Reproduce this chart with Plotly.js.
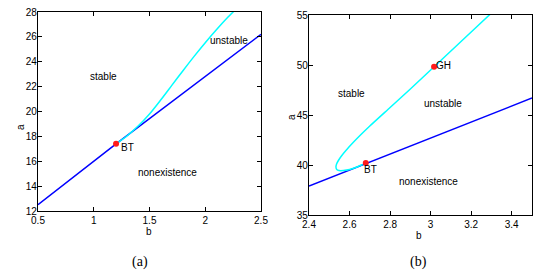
<!DOCTYPE html>
<html><head><meta charset="utf-8">
<script src="https://cdn.plot.ly/plotly-3.0.1.min.js"></script>
<style>body{margin:0;background:#fff}#c{width:558px;height:276px}</style>
</head><body><div id="c"></div>
<script>
// Panel (a)
var aBlueB = [0.5, 1.2, 2.5];
var aBlueA = [12.5, 17.4, 26.2];
var aCyanB = [1.2, 1.3, 1.4, 1.5, 1.6, 1.7, 1.8, 1.9, 2.0, 2.1, 2.2, 2.3];
var aCyanA = [17.4, 18.05, 18.85, 19.8, 20.92, 22.1, 23.28, 24.43, 25.53, 26.57, 27.55, 28.45];
var aBT = [1.2, 17.4];
// Panel (b)
var bBlueB = [2.4, 2.68, 3.5];
var bBlueA = [37.9, 40.15, 46.7];
var bCyanB = [2.665, 2.63, 2.6, 2.57, 2.548, 2.537, 2.533, 2.536, 2.545, 2.56, 2.58, 2.62, 2.7, 2.8, 2.9, 3.0, 3.1, 3.2, 3.3];
var bCyanA = [40.05, 39.75, 39.55, 39.45, 39.45, 39.55, 39.8, 40.1, 40.45, 40.9, 41.4, 42.3, 43.9, 45.75, 47.6, 49.5, 51.4, 53.3, 55.2];
var bBT = [2.68, 40.2];
var bGH = [3.017, 49.83];

var F = 'Liberation Sans, Arial, sans-serif';
var traces = [
  {x: aBlueB, y: aBlueA, mode: 'lines', line: {color: '#0000ff', width: 1.5}, xaxis: 'x', yaxis: 'y'},
  {x: aCyanB, y: aCyanA, mode: 'lines', line: {color: '#00ffff', width: 1.5, shape: 'spline', smoothing: 0.8}, xaxis: 'x', yaxis: 'y'},
  {x: [aBT[0]], y: [aBT[1]], mode: 'markers', marker: {color: '#ff1a1a', size: 6}, xaxis: 'x', yaxis: 'y'},
  {x: bBlueB, y: bBlueA, mode: 'lines', line: {color: '#0000ff', width: 1.5}, xaxis: 'x2', yaxis: 'y2'},
  {x: bCyanB, y: bCyanA, mode: 'lines', line: {color: '#00ffff', width: 1.5, shape: 'spline', smoothing: 0.6}, xaxis: 'x2', yaxis: 'y2'},
  {x: [bBT[0], bGH[0]], y: [bBT[1], bGH[1]], mode: 'markers', marker: {color: '#ff1a1a', size: 6}, xaxis: 'x2', yaxis: 'y2'}
];
function ax(extra) {
  var o = {showgrid: false, zeroline: false, showline: true, linecolor: '#000', linewidth: 1.2,
    mirror: 'ticks', ticks: 'inside', ticklen: 4, tickcolor: '#000', tickwidth: 1,
    tickfont: {family: F, size: 10, color: '#000'}, fixedrange: true};
  for (var k in extra) o[k] = extra[k];
  return o;
}
var tf = {family: F, size: 10, color: '#000'};
function pa(x, y, text, extra) {
  var o = {xref: 'paper', yref: 'paper', x: x/558, y: 1-y/276, text: text, showarrow: false,
    xanchor: 'center', yanchor: 'middle', font: tf};
  for (var k in extra) o[k] = extra[k];
  return o;
}
var serif = {family: 'Liberation Serif, Times New Roman, serif', size: 14, color: '#000'};
var layout = {
  width: 558, height: 276, margin: {l: 0, r: 0, t: 0, b: 0},
  paper_bgcolor: '#fff', plot_bgcolor: '#fff', showlegend: false,
  xaxis: ax({domain: [38/558, 261/558], range: [0.5, 2.5], dtick: 0.5, tick0: 0.5, anchor: 'y'}),
  yaxis: ax({domain: [1-211/276, 1-12/276], range: [12, 28], dtick: 2, tick0: 12, anchor: 'x', ticklabelstandoff: -2}),
  xaxis2: ax({domain: [309/558, 532/558], range: [2.4, 3.5], dtick: 0.2, tick0: 2.4, anchor: 'y2'}),
  yaxis2: ax({domain: [1-215/276, 1-15/276], range: [35, 55], dtick: 5, tick0: 35, anchor: 'x2', ticklabelstandoff: -2}),
  annotations: [
    pa(149, 231, 'b'),
    pa(20, 127, 'a', {textangle: -90}),
    pa(419, 235, 'b'),
    pa(291, 117, 'a', {textangle: -90}),
    {xref: 'x', yref: 'y', x: 1.083, y: 22.78, text: 'stable', showarrow: false, font: tf},
    {xref: 'x', yref: 'y', x: 2.213, y: 25.67, text: 'unstable', showarrow: false, font: tf},
    {xref: 'x', yref: 'y', x: 1.307, y: 17.07, text: 'BT', showarrow: false, font: tf},
    {xref: 'x', yref: 'y', x: 1.663, y: 15.06, text: 'nonexistence', showarrow: false, font: tf},
    {xref: 'x2', yref: 'y2', x: 2.609, y: 47.2, text: 'stable', showarrow: false, font: tf},
    {xref: 'x2', yref: 'y2', x: 3.063, y: 46.2, text: 'unstable', showarrow: false, font: tf},
    {xref: 'x2', yref: 'y2', x: 3.063, y: 49.97, text: 'GH', showarrow: false, font: tf},
    {xref: 'x2', yref: 'y2', x: 2.701, y: 39.6, text: 'BT', showarrow: false, font: tf},
    {xref: 'x2', yref: 'y2', x: 2.987, y: 38.37, text: 'nonexistence', showarrow: false, font: tf},
    pa(140, 262, '(a)', {font: serif}),
    pa(418, 262, '(b)', {font: serif})
  ]
};
Plotly.newPlot('c', traces, layout, {staticPlot: true, displayModeBar: false});
</script></body></html>
